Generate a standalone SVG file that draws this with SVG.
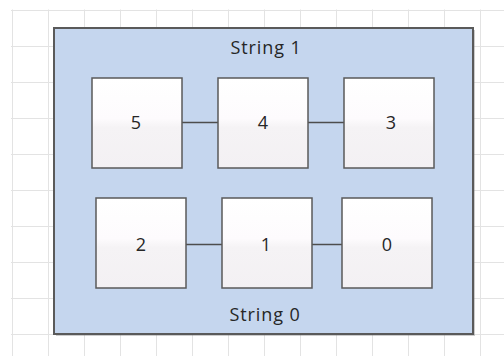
<svg xmlns="http://www.w3.org/2000/svg" width="504" height="356" viewBox="0 0 504 356">
  <defs>
    <linearGradient id="boxFill" x1="0" y1="0" x2="0" y2="1">
      <stop offset="0" stop-color="#ffffff"/>
      <stop offset="0.45" stop-color="#fdfbfd"/>
      <stop offset="0.55" stop-color="#f5f3f5"/>
      <stop offset="1" stop-color="#f3f0f3"/>
    </linearGradient>
    <pattern id="grid" x="12" y="10" width="36" height="36" patternUnits="userSpaceOnUse">
      <path d="M0.5 0 V36 M0 0.5 H36" fill="none" stroke="#e3e3e3" stroke-width="1"/>
    </pattern>
  </defs>
  <style>
    .box { fill: url(#boxFill); stroke: #5a5a5a; stroke-width: 1.5; }
    .wire { stroke: #4d4d4d; stroke-width: 1.5; fill: none; }
    .num { font-family: "Open Sans", "Liberation Sans", sans-serif; font-size: 18px; fill: #262626; text-anchor: middle; }
    .title { font-family: "Open Sans", "Liberation Sans", sans-serif; font-size: 18px; fill: #262626; text-anchor: middle; letter-spacing: 0.9px; }
  </style>

  <!-- drawing page grid -->
  <rect x="0" y="0" width="504" height="356" fill="#ffffff"/>
  <rect x="11" y="9.5" width="493" height="346.5" fill="url(#grid)"/>

  <!-- container holding both strings -->
  <g id="container">
    <rect x="56" y="30" width="419" height="306" fill="#6e6e6e" opacity="0.35"/>
    <rect x="54" y="28" width="419" height="306" fill="#c5d6ee" stroke="#5a5a5a" stroke-width="2"/>
    <text class="title" x="266" y="54">String 1</text>
    <text class="title" x="265" y="321">String 0</text>
  </g>

  <!-- links between neighbouring cells -->
  <g id="connectors">
    <line class="wire" x1="182" y1="122.5" x2="218" y2="122.5"/>
    <line class="wire" x1="308" y1="122.5" x2="344" y2="122.5"/>
    <line class="wire" x1="186" y1="244.5" x2="222" y2="244.5"/>
    <line class="wire" x1="312" y1="244.5" x2="342" y2="244.5"/>
  </g>

  <g id="node5">
    <rect class="box" x="92" y="78" width="90" height="90"/>
    <text class="num" x="136" y="129">5</text>
  </g>
  <g id="node4">
    <rect class="box" x="218" y="78" width="90" height="90"/>
    <text class="num" x="263" y="129">4</text>
  </g>
  <g id="node3">
    <rect class="box" x="344" y="78" width="90" height="90"/>
    <text class="num" x="391" y="129">3</text>
  </g>
  <g id="node2">
    <rect class="box" x="96" y="198" width="90" height="90"/>
    <text class="num" x="141" y="251">2</text>
  </g>
  <g id="node1">
    <rect class="box" x="222" y="198" width="90" height="90"/>
    <text class="num" x="266" y="251">1</text>
  </g>
  <g id="node0">
    <rect class="box" x="342" y="198" width="90" height="90"/>
    <text class="num" x="387" y="251">0</text>
  </g>
</svg>
